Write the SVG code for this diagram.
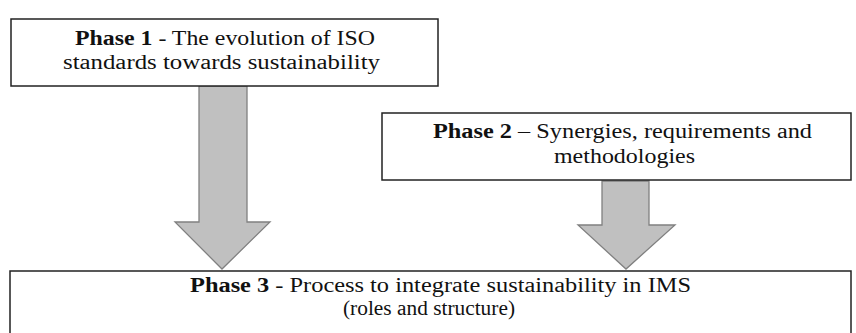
<svg xmlns="http://www.w3.org/2000/svg" width="856" height="333" viewBox="0 0 856 333">
<style>
.box{fill:#fff;stroke:#222;stroke-width:1.5}
.arr{fill:#c0c0c0;stroke:#808080;stroke-width:1.3;stroke-linejoin:miter}
text{font-family:"Liberation Serif","Times New Roman",serif;font-size:20.5px;fill:#111;text-anchor:middle}
.b{font-weight:bold}
</style>
<rect width="856" height="333" fill="#fff"/>
<g id="connectors">
<polygon class="arr" points="199,86 247,86 247,222 270,222 222,269 175,222 199,222"/>
<polygon class="arr" points="602,181 649,181 649,225 675,225 626,269 578,225 602,225"/>
</g>
<g id="phase1">
<rect class="box" x="11" y="19" width="427" height="67"/>
<text x="225" y="45" textLength="300" lengthAdjust="spacingAndGlyphs"><tspan class="b">Phase 1</tspan> - The evolution of ISO</text>
<text x="221.5" y="69" textLength="317" lengthAdjust="spacingAndGlyphs">standards towards sustainability</text>
</g>
<g id="phase2">
<rect class="box" x="382" y="113" width="469" height="67"/>
<text x="622.5" y="138" textLength="379" lengthAdjust="spacingAndGlyphs"><tspan class="b">Phase 2</tspan> – Synergies, requirements and</text>
<text x="624.5" y="163" textLength="141" lengthAdjust="spacingAndGlyphs">methodologies</text>
</g>
<g id="phase3">
<rect class="box" x="10" y="271" width="841" height="70"/>
<text x="440.5" y="292" textLength="501" lengthAdjust="spacingAndGlyphs"><tspan class="b">Phase 3</tspan> - Process to integrate sustainability in IMS</text>
<text x="429" y="315" textLength="172" lengthAdjust="spacingAndGlyphs">(roles and structure)</text>
</g>
</svg>
